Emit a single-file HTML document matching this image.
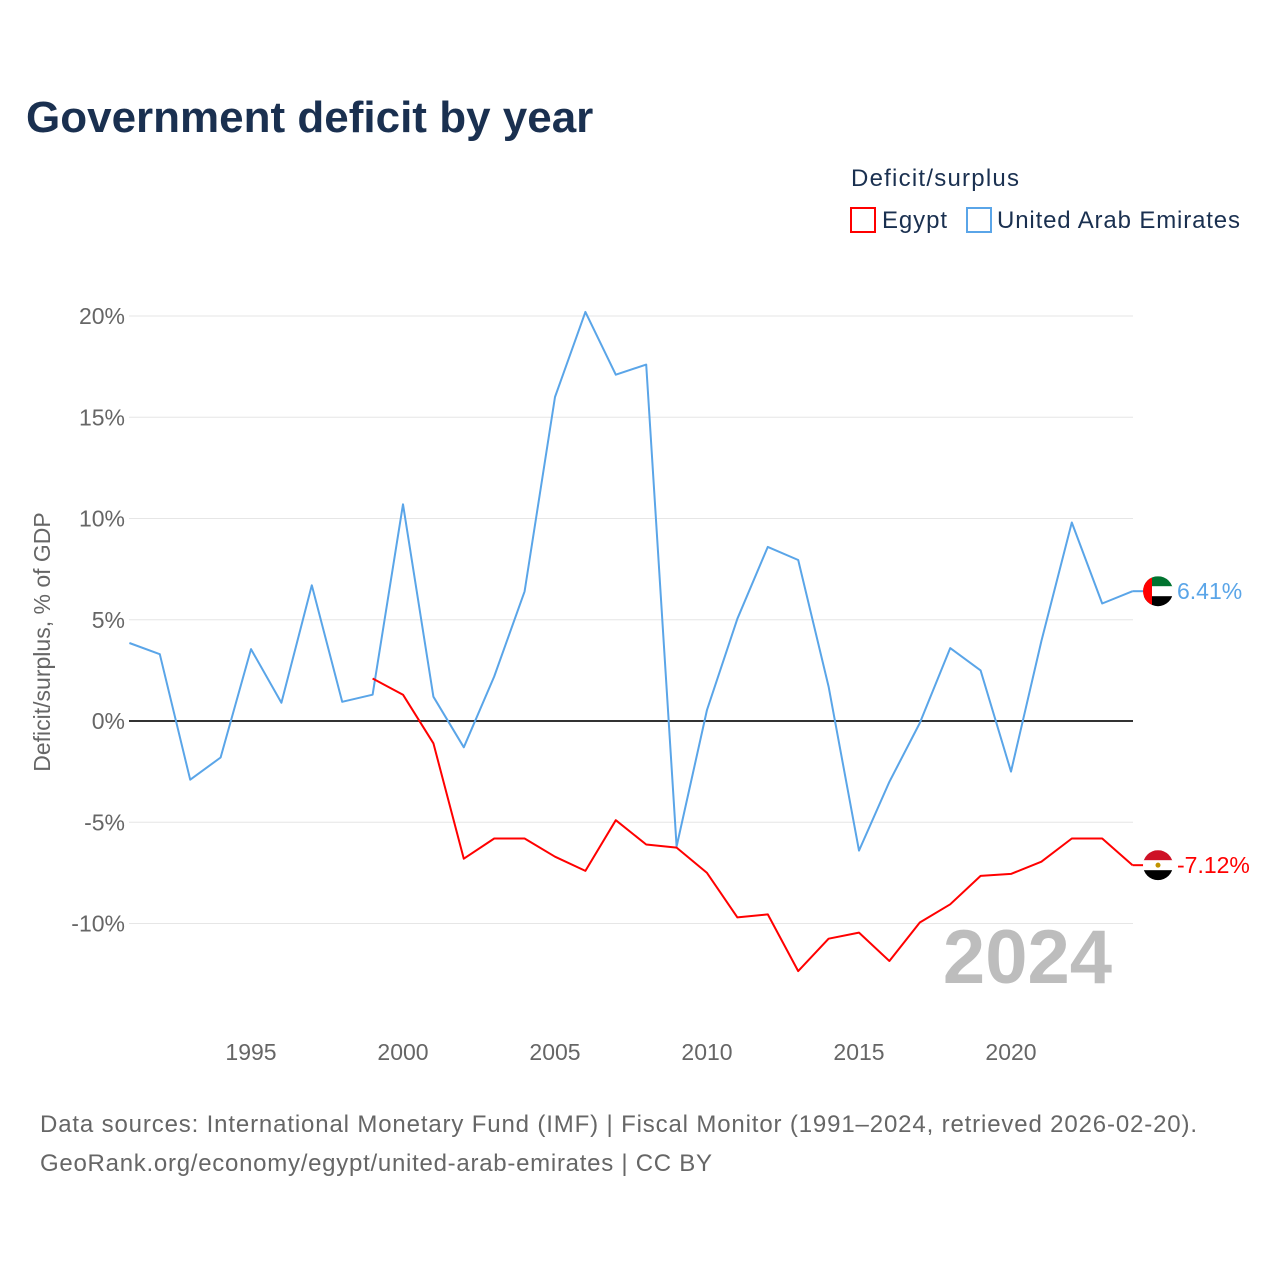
<!DOCTYPE html>
<html><head><meta charset="utf-8"><style>
body{margin:0;background:#fff;}
svg{display:block;font-family:"Liberation Sans",sans-serif;}
</style></head><body>
<svg id="c" width="1280" height="1280" viewBox="0 0 1280 1280">
<rect width="1280" height="1280" fill="#fff"/>
<text x="26" y="132" font-size="44" font-weight="bold" fill="#1a3050">Government deficit by year</text>
<text x="851" y="186" font-size="24" fill="#1a3050" textLength="168">Deficit/surplus</text>
<g><rect x="851" y="208" width="24" height="24" fill="none" stroke="#ff0000" stroke-width="2"/><text x="882" y="228" font-size="24" fill="#1a3050" textLength="65">Egypt</text></g>
<g><rect x="967" y="208" width="24" height="24" fill="none" stroke="#5aa5e8" stroke-width="2"/><text x="997" y="228" font-size="24" fill="#1a3050" textLength="243">United Arab Emirates</text></g>
<text transform="translate(50,642) rotate(-90)" text-anchor="middle" font-size="23" fill="#666">Deficit/surplus, % of GDP</text>
<g id="grid"></g><g id="marks"></g>
<text x="1112" y="983" text-anchor="end" font-size="76" font-weight="bold" fill="#bdbdbd">2024</text>
<text x="40" y="1132" font-size="24" fill="#666" textLength="1157">Data sources: International Monetary Fund (IMF) | Fiscal Monitor (1991–2024, retrieved 2026-02-20).</text>
<text x="40" y="1171" font-size="24" fill="#666" textLength="672">GeoRank.org/economy/egypt/united-arab-emirates | CC BY</text>
</svg>
<script>
const years=[1991,1992,1993,1994,1995,1996,1997,1998,1999,2000,2001,2002,2003,2004,2005,2006,2007,2008,2009,2010,2011,2012,2013,2014,2015,2016,2017,2018,2019,2020,2021,2022,2023,2024];
const uae=[3.85,3.3,-2.9,-1.8,3.55,0.9,6.7,0.95,1.3,10.7,1.2,-1.3,2.2,6.4,16.0,20.2,17.1,17.6,-6.2,0.55,5.05,8.6,7.95,1.7,-6.4,-3.0,-0.1,3.6,2.5,-2.5,3.95,9.8,5.8,6.41];
const egypt=[null,null,null,null,null,null,null,null,2.1,1.3,-1.1,-6.8,-5.8,-5.8,-6.7,-7.4,-4.9,-6.1,-6.25,-7.5,-9.7,-9.55,-12.35,-10.75,-10.45,-11.85,-9.95,-9.05,-7.65,-7.55,-6.95,-5.8,-5.8,-7.12];
const yTicks=[-10,-5,0,5,10,15,20];
const xTicks=[1995,2000,2005,2010,2015,2020];
const NS="http://www.w3.org/2000/svg";
const X=y=>129.4+(y-1991)*30.4;
const Y=v=>721-v*20.25;
function mk(t,a,p){const e=document.createElementNS(NS,t);for(const k in a)e.setAttribute(k,a[k]);p.appendChild(e);return e;}
const g=document.getElementById('grid'),m=document.getElementById('marks');
yTicks.forEach(v=>{
 const l=mk('line',{x1:129,x2:1133,y1:Y(v),y2:Y(v),stroke:v===0?'#333':'#e6e6e6','stroke-width':v===0?2:1},g);
 
 
 const t=mk('text',{x:125,y:Y(v)+8,'text-anchor':'end','font-size':23,fill:'#666'},g);
 t.textContent=v+'%';
 
 
});
xTicks.forEach(v=>{
 const t=mk('text',{x:X(v),y:1060,'text-anchor':'middle','font-size':23,fill:'#666'},g);
 t.textContent=v;
 
 
});
function line(vals,col,name){
 let d='';vals.forEach((v,i)=>{if(v===null)return;d+=(d?'L':'M')+X(years[i]).toFixed(1)+','+Y(v).toFixed(1);});
 const p=mk('path',{d:d,fill:'none',stroke:col,'stroke-width':2,'stroke-linejoin':'round'},m);
 
 
 const last=vals[vals.length-1],y=Y(last);
 mk('line',{x1:X(2024),x2:1146,y1:y,y2:y,stroke:col,'stroke-width':2},m);
 const t=mk('text',{x:1177,y:y+8,'font-size':23,fill:col},m);
 t.textContent=last.toFixed(2)+'%';
 
 
 return y;
}
const yu=line(uae,'#5aa5e8','uae-line');
const ye=line(egypt,'#ff0000','egypt-line');
function flag(y,cols,name,side){
 const f=mk('g',{},m);
 
 
 const cx=1158,r=15;
 const clip=mk('clipPath',{id:name+'c'},f);
 mk('circle',{cx:cx,cy:y,r:r},clip);
 const gg=mk('g',{'clip-path':'url(#'+name+'c)'},f);
 cols.forEach((c,i)=>mk('rect',{x:cx-r,y:y-r+i*2*r/3,width:2*r,height:2*r/3+0.5,fill:c},gg));
 if(side)mk('rect',{x:cx-r,y:y-r,width:9,height:2*r,fill:side},gg);
 else mk('circle',{cx:cx,cy:y,r:2.5,fill:'#c09300'},gg);
}
flag(yu,['#00732f','#fff','#000'],'uae-flag','#ff0000');
flag(ye,['#ce1126','#fff','#000'],'egypt-flag',null);
</script>
</body></html>
